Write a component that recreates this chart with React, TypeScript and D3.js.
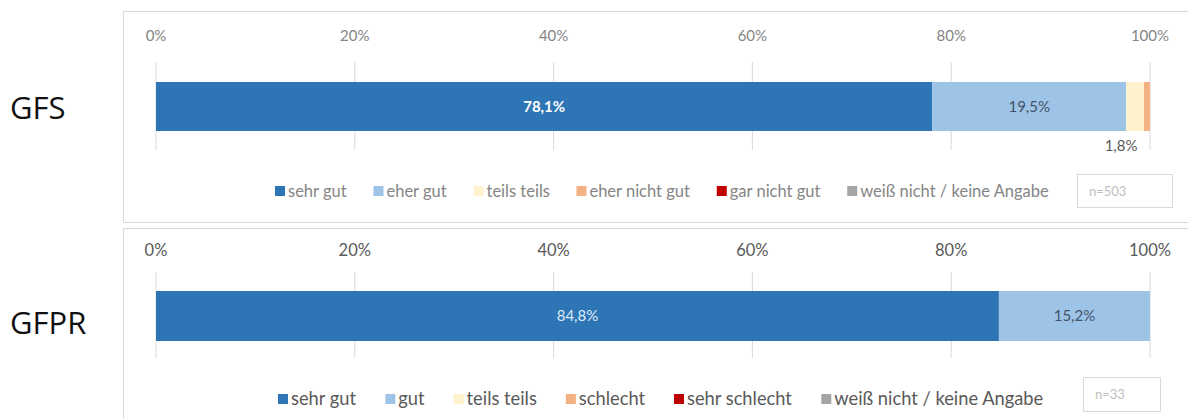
import React from "react";
import * as d3 from "d3";

const colors = ["#2E75B6", "#9DC3E6", "#FFF2CC", "#F4B183", "#C00000", "#A5A5A5"];
const ticks = [0, 20, 40, 60, 80, 100];

const gfsCategories = ["sehr gut", "eher gut", "teils teils", "eher nicht gut", "gar nicht gut", "weiß nicht / keine Angabe"];
const gfsValues = [78.1, 19.5, 1.8, 0.6, 0, 0];
const gfsN = "n=503";

const gfprCategories = ["sehr gut", "gut", "teils teils", "schlecht", "sehr schlecht", "weiß nicht / keine Angabe"];
const gfprValues = [84.8, 15.2, 0, 0, 0, 0];
const gfprN = "n=33";

const FONT = "Lato, 'Open Sans', sans-serif";

let ctx: CanvasRenderingContext2D | null = null;
function textW(t: string, size: number) {
  if (!ctx) ctx = document.createElement("canvas").getContext("2d");
  if (!ctx) return t.length * size * 0.5;
  ctx.font = `${size}px Lato`;
  return ctx.measureText(t).width;
}

type Layout = {
  tickY: number; gridY0: number; gridY1: number; barY: number; barH: number;
  legendY: number; legendX: number; legendGap: number; legendFs: number; tickFs: number; labelFs: number;
  nBox: [number, number, number, number]; labelY: number;
};

type PanelProps = {
  top: number;
  label: string;
  cats: string[];
  vals: number[];
  n: string;
  L: Layout;
  tickColor: string;
  labelColors: string[];
  boldFirst: boolean;
};

function Panel(p: PanelProps) {
  const L = p.L;
  const x = d3.scaleLinear().domain([0, 100]).range([156, 1150]);
  let acc = 0;
  const segs = p.vals.map((v, i) => {
    const s = { x0: acc, x1: acc + v, v, i };
    acc += v;
    return s;
  });
  const barY = p.top + L.barY;
  const barH = L.barH;
  const legendY = p.top + L.legendY;
  const fs = L.legendFs;
  let lx = L.legendX;
  const legend = p.cats.map((c, i) => {
    const item = { c, i, x: lx };
    lx += 13 + textW(c, fs) + L.legendGap;
    return item;
  });
  const fmt = (v: number) => v.toFixed(1).replace(".", ",") + "%";
  return (
    <g>
      <rect x={123.5} y={p.top + 0.5} width={1080} height={211} fill="#fff" stroke="#d9d9d9" />
      <text x={10} y={p.top + L.labelY} fontFamily="'Open Sans', Lato, sans-serif" fontSize={31} fill="#111">{p.label}</text>
      {ticks.map((t) => (
        <g key={t}>
          <line x1={x(t)} x2={x(t)} y1={p.top + L.gridY0} y2={p.top + L.gridY1} stroke="#d9d9d9" />
          <text x={x(t)} y={p.top + L.tickY} textAnchor="middle" fontFamily={FONT} fontSize={L.tickFs} fill={p.tickColor}>{t}%</text>
        </g>
      ))}
      {segs.filter((s) => s.v > 0).map((s) => (
        <rect key={s.i} x={x(s.x0)} y={barY} width={x(s.x1) - x(s.x0)} height={barH} fill={colors[s.i]} />
      ))}
      {segs.filter((s) => s.v >= 5).map((s) => (
        <text key={"l" + s.i} x={(x(s.x0) + x(s.x1)) / 2} y={barY + barH / 2 + 5} textAnchor="middle" fontFamily={FONT}
          fontSize={L.labelFs} fontWeight={s.i === 0 && p.boldFirst ? 700 : 400} fill={p.labelColors[s.i]}>{fmt(s.v)}</text>
      ))}
      {segs.filter((s) => s.v > 1 && s.v < 5).map((s) => (
        <text key={"s" + s.i} x={(x(s.x0) + x(s.x1)) / 2 - 14} y={barY + barH + 20} textAnchor="middle" fontFamily={FONT}
          fontSize={L.labelFs} fill="#595959">{fmt(s.v)}</text>
      ))}
      {legend.map((l) => (
        <g key={l.c}>
          <rect x={l.x} y={legendY - 11} width={10} height={10} fill={colors[l.i]} />
          <text x={l.x + 13} y={legendY} fontFamily={FONT} fontSize={fs} fill={p.tickColor}>{l.c}</text>
        </g>
      ))}
      <rect x={L.nBox[0] + 0.5} y={p.top + L.nBox[2] + 0.5} width={L.nBox[1] - L.nBox[0]} height={L.nBox[3] - L.nBox[2]}
        fill="#fff" stroke="#d9d9d9" />
      <text x={L.nBox[0] + 12} y={p.top + (L.nBox[2] + L.nBox[3]) / 2 + 5} fontFamily={FONT} fontSize={13} fill="#bfbfbf">{p.n}</text>
    </g>
  );
}

const topLayout: Layout = {
  tickY: 30, gridY0: 51, gridY1: 139, barY: 71, barH: 49, legendY: 186, legendX: 275, legendGap: 26.5,
  legendFs: 16.5, tickFs: 15, labelFs: 15, nBox: [1077, 1172, 163, 196], labelY: 108,
};
const bottomLayout: Layout = {
  tickY: 28, gridY0: 44, gridY1: 130, barY: 63, barH: 50, legendY: 177, legendX: 278, legendGap: 29,
  legendFs: 18.3, tickFs: 16.5, labelFs: 15, nBox: [1083, 1160, 149, 183], labelY: 106,
};

export default function App() {
  return (
    <svg width={1188} height={419} style={{ position: "absolute", left: 0, top: 0, background: "#fff" }}>
      <Panel top={11} label="GFS" cats={gfsCategories} vals={gfsValues} n={gfsN} L={topLayout} boldFirst
        tickColor="#858585" labelColors={["#ffffff", "#44546A", "#595959", "#595959", "#595959", "#595959"]} />
      <Panel top={228} label="GFPR" cats={gfprCategories} vals={gfprValues} n={gfprN} L={bottomLayout} boldFirst={false}
        tickColor="#595959" labelColors={["#DEEBF7", "#44546A", "#595959", "#595959", "#595959", "#595959"]} />
    </svg>
  );
}
